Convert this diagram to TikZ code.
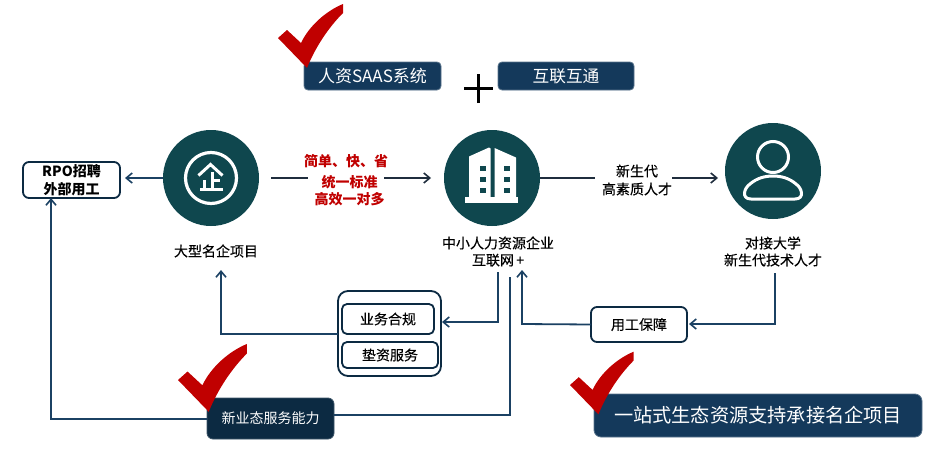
\documentclass[tikz,border=0pt]{standalone}
\usepackage{fontspec}
\setmainfont{Noto Sans CJK SC}
\newfontfamily\semi[FakeBold=0.3]{Noto Sans CJK SC}
\usetikzlibrary{arrows.meta}
\definecolor{navy}{HTML}{14395B}
\definecolor{navyd}{HTML}{0C2A42}
\definecolor{hubcol}{HTML}{0F474E}
\definecolor{ln}{HTML}{1B4163}
\definecolor{chk}{HTML}{C00000}
\definecolor{dk}{HTML}{1F2D3D}
\tikzset{
  x=1pt,y=-1pt,
  every node/.style={inner sep=0pt,outer sep=0pt,align=center,text=black},
  hub/.style={circle,fill=hubcol,minimum size=96pt},
  darkbox/.style={rectangle,rounded corners=4pt,fill=navy,draw=navy!70,line width=.8pt,text=white},
  lightbox/.style={rectangle,rounded corners=5pt,fill=white,draw=navyd,line width=1.8pt,font=\fontsize{14}{17}\selectfont\semi},
  link/.style={draw=ln,line width=1.8pt},
  tip/.style={-{Straight Barb[length=6pt,width=10pt,line width=1.6pt]}},
  dlink/.style={draw=dk,line width=1.8pt},
  lab/.style={font=\fontsize{14}{17}\selectfont\semi,text=black},
  redlab/.style={font=\fontsize{14}{17}\selectfont\bfseries,text=chk},
  ic/.style={fill=white,draw=none},
}
\newcommand{\tick}[3]{\fill[chk,shift={(#1,#2)},scale=#3] (0,0) -- (9,-8) -- (23,5) .. controls (31,-12) and (48,-27) .. (65,-34) -- (65,-25) .. controls (50,-10) and (37,10) .. (29,30) -- cycle;}
\begin{document}
\begin{tikzpicture}
\useasboundingbox (0,0) rectangle (940,458);
% hubs
\node[hub] (c1) at (211,178) {};
\node[hub] (c2) at (492,178) {};
\node[hub] (c3) at (773,171) {};
% boxes
\node[darkbox,minimum width=137pt,minimum height=28pt,font=\fontsize{17}{18}\selectfont] (hr) at (372.5,76) {人资SAAS系统};
\node[darkbox,minimum width=136pt,minimum height=28pt,font=\fontsize{16.7}{18}\selectfont] (net) at (566,76) {互联互通};
\node[lightbox,minimum width=97pt,minimum height=36pt,rounded corners=6pt,font=\fontsize{14}{18}\selectfont\bfseries] (rpo) at (71.5,180) {RPO招聘\\外部用工};
\node[lightbox,rounded corners=10pt,minimum width=103pt,minimum height=85pt] (outer) at (389.5,333.5) {};
\node[lightbox,minimum width=92pt,minimum height=30pt] (comp) at (388,319) {业务合规};
\node[lightbox,minimum width=96pt,minimum height=26pt] (fund) at (390,355) {垫资服务};
\node[lightbox,minimum width=96pt,minimum height=35pt,rounded corners=6pt] (guar) at (639,324.5) {用工保障};
\node[darkbox,fill=navyd,draw=navyd!80,rounded corners=6pt,minimum width=127pt,minimum height=41pt,font=\fontsize{14}{17}\selectfont] (svc) at (270.5,418.5) {新业态服务能力};
\node[darkbox,rounded corners=7pt,minimum width=328pt,minimum height=43pt,font=\fontsize{19.2}{22}\selectfont] (one) at (758,415.5) {一站式生态资源支持承接名企项目};
% plus
\coordinate (p) at (478.5,88.5);
\draw[black,line width=3.6pt] ([xshift=-14.5pt]p) -- ([xshift=14.5pt]p);
\draw[black,line width=3.6pt] ([yshift=-14.5pt]p) -- ([yshift=14.5pt]p);
% labels
\node[lab] (l1) at (216,251) {大型名企项目};
\node[lab] (l2) at (498,251.5) {中小人力资源企业\\互联网\,+};
\node[lab] (l3) at (773,251.5) {对接大学\\新生代技术人才};
\node[redlab] (r1) at (346,161) {简单、快、省};
\node[redlab] (r2) at (349.5,182) {统一标准};
\node[redlab] (r3) at (349.5,199) {高效一对多};
\node[font=\fontsize{14}{18}\selectfont\semi] (n1) at (637,180) {新生代\\高素质人才};
% connectors
\coordinate (a1) at (271,178);
\coordinate (a2) at (308,178);
\coordinate (a3) at (384,178);
\coordinate (a4) at (431,178);
\draw[dlink] (a1) -- (a2);
\draw[dlink,tip] (a3) -- (a4);
\coordinate (b1) at (595,178);
\coordinate (b2) at (672,178);
\coordinate (b3) at (718,178);
\draw[dlink] (c2.east) -- (b1);
\draw[dlink,tip] (b2) -- (b3);
\draw[link,tip] (c1.west) -- (125,178);
\coordinate (d1) at (498,272);
\coordinate (d2) at (498,322);
\draw[link,tip] (d1) -- (d2) -- (442,322);
\coordinate (e1) at (338,334);
\coordinate (e2) at (221,334);
\coordinate (e3) at (221,270);
\draw[link,tip] (e1) -- (e2) -- (e3);
\coordinate (f1) at (510,277);
\coordinate (f2) at (510,415);
\draw[link] (f1) -- (f2) -- (svc.east |- f2);
\coordinate (g1) at (51,419);
\draw[link,tip] (svc.west |- g1) -- (g1) -- (rpo.south -| g1);
\coordinate (h1) at (775,273);
\coordinate (h2) at (775,324);
\draw[link,tip] (h1) -- (h2) -- (689,324);
\coordinate (i1) at (522,324);
\coordinate (i2) at (522,270);
\draw[link,tip] (guar.west) -- (i1) -- (i2);
% icon 1
\draw[white,line width=3.2pt] (c1) circle (25.5);
\draw[white,line width=3pt] (198.5,175.5) -- (210.5,164.5) -- (222.5,175.5);
\draw[white,line width=3pt] (212,172) -- (212,190);
\draw[white,line width=3pt] (212,180) -- (220,180);
\draw[white,line width=3pt] (204,180) -- (204,190);
\draw[white,line width=3pt] (200,189.5) -- (223,189.5);
% icon 2
\fill[ic] (469,176) -- (469,156.5) -- (489,147.5) -- (490.5,148.5) -- (490.5,197) -- (469,197) -- cycle;
\fill[ic] (494.5,148) -- (516,157.5) -- (516,197) -- (494.5,197) -- cycle;
\fill[ic] (465,197) rectangle (518,202.5);
\foreach \yy in {168.5,179.5,190.5}{
  \fill[hubcol] (480,\yy-2.5) rectangle (485.5,\yy+2.5);
  \fill[hubcol] (504,\yy-2.5) rectangle (509.5,\yy+2.5);
}
% icon 3
\draw[white,line width=3pt] (773,157) circle (15.5);
\draw[white,line width=3pt,line join=round] (751,199) .. controls (741,199) and (744,188) .. (750,184) .. controls (757,178) and (765,176) .. (773,176) .. controls (781,176) and (789,178) .. (796,184) .. controls (802,188) and (805,199) .. (795,199) -- cycle;
% ticks
\tick{278}{38}{1}
\tick{178}{380}{1.06}
\tick{570}{385}{0.98}
\end{tikzpicture}
\end{document}
